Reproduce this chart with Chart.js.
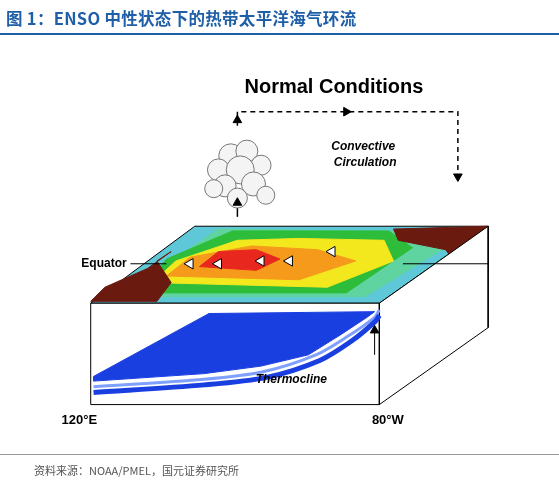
<!DOCTYPE html>
<html><head><meta charset="utf-8">
<script src="https://cdn.jsdelivr.net/npm/chart.js@4/dist/chart.umd.min.js"></script>
<style>
body{margin:0;background:#fff;font-family:"Noto Sans CJK SC",sans-serif}
#wrap{position:relative;width:559px;height:490px}
#t{position:absolute;left:6px;top:6px;font-size:16.5px;font-weight:bold;color:#1f5fa8;letter-spacing:0.3px}
#l1{position:absolute;left:0;top:33px;width:559px;border-top:2px solid #1f5fa8}
#l2{position:absolute;left:0;top:454px;width:559px;border-top:1px solid #999}
#s{position:absolute;left:34px;top:462px;font-size:11px;color:#555}
</style></head><body>
<div id="wrap"><canvas id="c" width="559" height="490"></canvas>
<div id="t">图 1：ENSO 中性状态下的热带太平洋海气环流</div><div id="l1"></div>
<div id="l2"></div><div id="s">资料来源：NOAA/PMEL，国元证券研究所</div></div>
<script>
// Diagram geometry (data, in picture units)
const topFace=[[80,307],[385,307],[500,225],[190,225],[80,307]];
const sideFace=[[385,307],[500,225],[500,333],[385,415],[385,307]];
const frontFace=[[80,307],[385,307],[385,415],[80,415],[80,307]];
const cyanZone=[[110,300],[370,300],[480,232],[215,228],[110,300]];
const greenZone=[[130,296],[350,296],[420,248],[395,230],[230,230],[160,260],[130,296]];
const yellowZone=[[145,285],[330,290],[400,262],[390,240],[300,238],[235,240],[170,262],[145,285]];
const orangeZone=[[160,278],[300,282],[360,262],[320,250],[250,246],[185,258],[160,278]];
const redZone=[[195,268],[255,272],[280,260],[255,250],[215,252],[195,268]];
const landW=[[80,305],[150,305],[165,285],[150,262],[165,252],[140,270],[95,290],[80,305]];
const landE=[[400,228],[500,225],[500,272],[470,270],[455,250],[430,245],[405,240],[400,228]];
const blueWarm=[[83,385],[205,318],[380,316],[372,322],[345,340],[310,362],[260,374],[200,382],[83,390],[83,385]];
const thermo=[[83,396],[200,388],[262,380],[318,362],[352,342],[380,322],[385,314]];
const thermo2=[[83,402],[200,394],[266,386],[322,368],[356,347],[381,326],[385,320]];
const circulation=[[235,118],[235,103],[468,103],[468,170]];
const cloudX=[228,245,215,260,238,222,252,235,210,265];
const cloudY=[150,145,165,160,165,182,180,195,185,192];
const cloudR=[12,11,11,10,14,11,12,10,9,9];
const equatorL=[[122,265],[160,265]], equatorR=[[410,265],[500,265]];
const labels=[["Normal Conditions",337,77,"bold 20px Liberation Sans","#000","center"],
["Convective",368,140,"italic bold 12px Liberation Sans","#000","center"],
["Circulation",370,157,"italic bold 12px Liberation Sans","#000","center"],
["Equator",118,265,"bold 12px Liberation Sans","#000","right"],
["Thermocline",292,389,"italic bold 12px Liberation Sans","#000","center"],
["120°E",68,432,"bold 13px Liberation Sans","#000","center"],
["80°W",394,432,"bold 13px Liberation Sans","#000","center"]];
const pts=a=>a.map(p=>({x:p[0],y:p[1]}));
function poly(a,bg,border){return{type:'line',data:pts(a),fill:'shape',backgroundColor:bg,borderColor:border||bg,borderWidth:1,pointRadius:0,tension:0,showLine:true};}
function line(a,c,w,dash,t){return{type:'line',data:pts(a),fill:false,borderColor:c,borderWidth:w,borderDash:dash||[],pointRadius:0,tension:t||0,showLine:true};}
const textPlugin={id:'txt',afterDatasetsDraw(ch){const c=ch.ctx,x=ch.scales.x,y=ch.scales.y;c.save();c.textBaseline='middle';
labels.forEach(l=>{c.font=l[3];c.fillStyle=l[4];c.textAlign=l[5];c.fillText(l[0],x.getPixelForValue(l[1]),y.getPixelForValue(l[2]));});c.restore();}};
const ds=[
poly(topFace,'#5fc8d8','#000'),poly(cyanZone,'#5fd3a0'),poly(greenZone,'#2ebd3a'),poly(yellowZone,'#f3e81d'),
poly(orangeZone,'#f59a1b'),poly(redZone,'#e8281e'),poly(landW,'#6b1a10'),poly(landE,'#6b1a10'),
poly(sideFace,'#ffffff','#000'),poly(frontFace,'#ffffff','#000'),poly(blueWarm,'#1a3fe0'),
line(thermo,'#7fa0ff',3,[],0.3),line(thermo2,'#1a3fe0',5,[],0.3),
line(circulation,'#000',1.5,[5,4]),line(equatorL,'#000',1),line(equatorR,'#000',1),
line([[235,215],[235,200]],'#000',1.5),line([[380,362],[380,338]],'#000',1),
{type:'bubble',data:cloudX.map((v,i)=>({x:v,y:cloudY[i],r:cloudR[i]})),backgroundColor:'#f4f4f4',borderColor:'#777',borderWidth:1},
{type:'scatter',data:pts([[235,112],[235,200],[350,103],[468,172],[380,336]]),pointStyle:'triangle',pointRadius:5,rotation:[0,0,90,180,0],backgroundColor:'#000',borderColor:'#000'},
{type:'scatter',data:pts([[185,265],[215,265],[260,262],[290,262],[335,252]]),pointStyle:'triangle',pointRadius:6,rotation:[270,270,270,270,270],backgroundColor:'#fff',borderColor:'#000',borderWidth:1}
];
ds.forEach((d,i)=>d.order=ds.length-i);
new Chart(document.getElementById('c'),{type:'scatter',data:{datasets:ds},options:{responsive:false,animation:false,layout:{padding:0},plugins:{legend:{display:false},tooltip:{enabled:false}},
scales:{x:{type:'linear',min:0,max:559,display:false},y:{type:'linear',min:0,max:490,reverse:true,display:false}}},plugins:[textPlugin]});
</script></body></html>
